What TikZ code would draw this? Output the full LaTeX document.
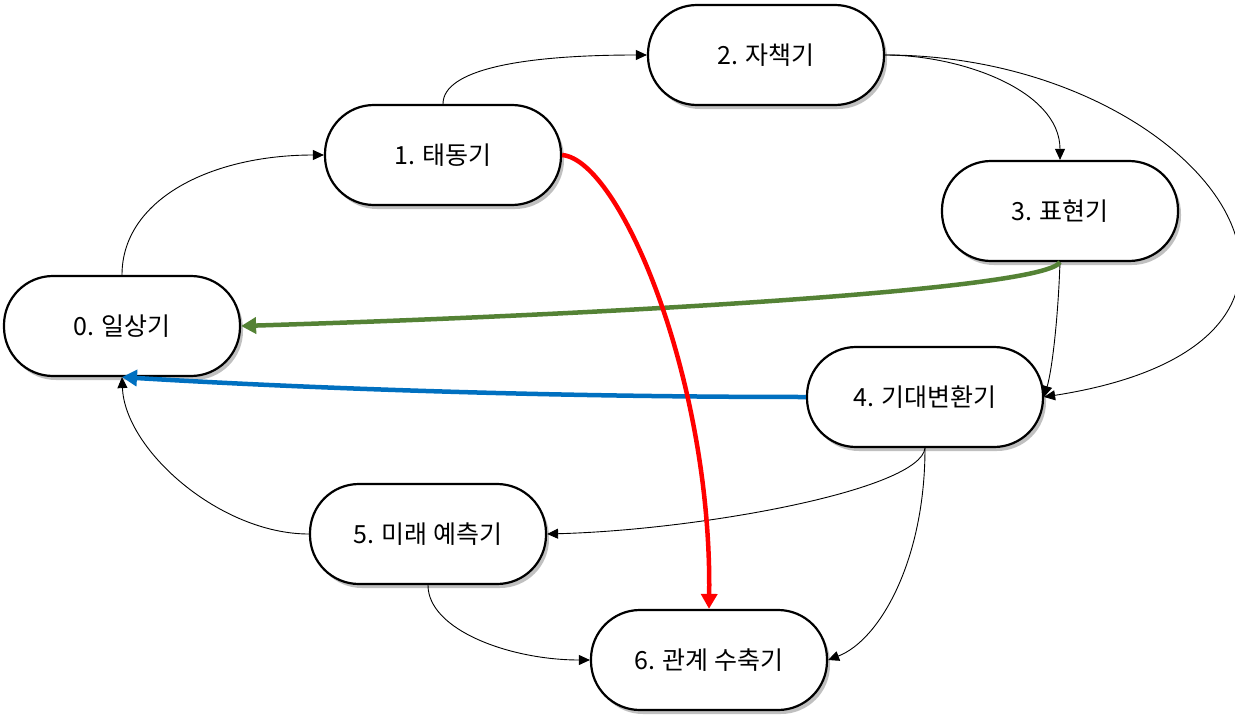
\documentclass[tikz,border=0pt]{standalone}
\usepackage{fontspec}
\setmainfont{Noto Sans CJK KR}
\usetikzlibrary{arrows.meta,shadows}
\definecolor{cgreen}{HTML}{548235}
\definecolor{cblue}{HTML}{0070C0}
\definecolor{cred}{HTML}{FF0000}
\tikzset{
  stage/.style={draw=black, line width=2.2pt, fill=white, rounded corners=49pt,
    minimum width=236pt, minimum height=100pt, inner sep=0pt,
    font=\fontsize{25pt}{30pt}\selectfont,
    drop shadow={shadow xshift=3pt, shadow yshift=-4pt, opacity=0.35, fill=black!70}},
  thinarrow/.style={draw=black, line width=0.9pt, -{Triangle[length=11pt,width=10pt]}},
  thickarrow/.style={line width=4.5pt, -{Triangle[length=15pt,width=16pt]}},
}
\begin{document}
\begin{tikzpicture}[x=1pt,y=-1pt]
\useasboundingbox (0,0) rectangle (1235,725);
\fill[white] (0,0) rectangle (1235,725);
\node[stage] (n0) at (122,326) {0. 일상기};
\node[stage] (n1) at (443,155) {1. 태동기};
\node[stage] (n2) at (766,55) {2. 자책기};
\node[stage] (n3) at (1060,211) {3. 표현기};
\node[stage] (n4) at (925,397) {4. 기대변환기};
\node[stage] (n5) at (428,534) {5. 미래 예측기};
\node[stage] (n6) at (709,660) {6. 관계 수축기};
% thin connectors
\draw[thinarrow] (n0.north) .. controls (122,200) and (210,155) .. (n1.west);
\draw[thinarrow] (n1.north) .. controls (443,70) and (520,55) .. (n2.west);
\draw[thinarrow] (n2.east) .. controls (960,55) and (1060,90) .. (n3.north);
\draw[thinarrow] (n2.east) .. controls (1200,55) and (1410,340) .. (n4.east);
\draw[thinarrow] (n3.south) .. controls (1058,320) and (1052,370) .. (n4.east);
\draw[thinarrow] (n4.south) .. controls (920,490) and (700,530) .. (n5.east);
\draw[thinarrow] (n4.south) .. controls (925,560) and (880,640) .. (n6.east);
\draw[thinarrow] (n5.west) .. controls (220,534) and (125,450) .. (n0.south);
\draw[thinarrow] (n5.south) .. controls (428,630) and (510,660) .. (n6.west);
% thick connectors
\draw[thickarrow, cgreen] (n3.south) .. controls (1045,290) and (600,315) .. (n0.east);
\draw[thickarrow, cblue] (n4.west) .. controls (500,397) and (250,385) .. (n0.south);
\draw[thickarrow, cred] (n1.east) .. controls (620,160) and (712,380) .. (n6.north);
\end{tikzpicture}
\end{document}
